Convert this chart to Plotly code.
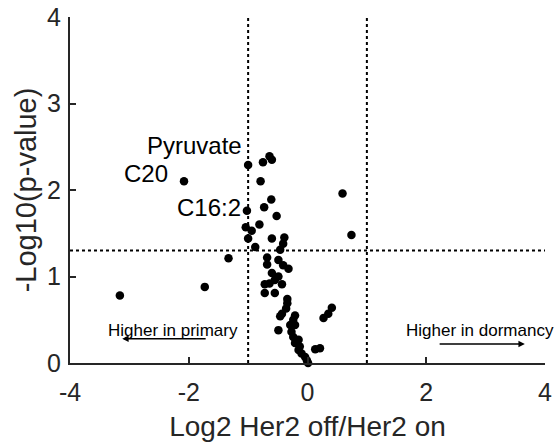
import plotly.graph_objects as go

# Data: log2 fold change (x) and -log10(p-value) (y)
x_vals = [-3.16, -1.73, -1.33, -2.08, -1.00, -1.02, 0.59, 0.74,
          -0.75, -0.64, -0.60, -0.79, -0.61, -0.73, -0.52, -0.81, -1.04, -0.94,
          -1.00, -0.60, -0.39, -0.41, -0.88, -0.46, -0.68, -0.68, -0.49, -0.41,
          -0.32, -0.60, -0.49, -0.64, -0.72, -0.55, -0.43, -0.55, -0.72, -0.34,
          -0.34, -0.36, 0.41, 0.35, 0.27, -0.43, -0.46, -0.21, -0.24, -0.21,
          -0.49, -0.29, -0.27, -0.24, -0.15, -0.21, -0.13, 0.13, 0.21, -0.15,
          -0.10, -0.04, -0.01, 0.01]
y_vals = [0.78, 0.88, 1.21, 2.10, 2.29, 1.76, 1.96, 1.48,
          2.32, 2.39, 2.35, 2.10, 1.89, 1.80, 1.70, 1.60, 1.57, 1.53,
          1.44, 1.44, 1.45, 1.38, 1.34, 1.31, 1.22, 1.14, 1.19, 1.13,
          1.09, 1.04, 1.00, 0.92, 0.91, 0.96, 0.91, 0.81, 0.81, 0.74,
          0.69, 0.63, 0.64, 0.57, 0.52, 0.57, 0.54, 0.55, 0.50, 0.44,
          0.38, 0.44, 0.36, 0.30, 0.27, 0.23, 0.19, 0.16, 0.17, 0.15,
          0.11, 0.07, 0.03, 0.00]

label_text = ["Pyruvate", "C20", "C16:2"]
label_x = [-1.07, -2.31, -1.09]
label_y = [2.51, 2.19, 1.80]

fc_cut = [-1, 1]
p_cut = 1.3
x_range = [-4, 4]
y_range = [0, 4]
tick_x = [-4, -2, 0, 2, 4]
tick_x_text = ["-4", "-2", "0", "2", "4"]
tick_y = [0, 1, 2, 3, 4]
tick_y_text = ["0", "1", "2", "3", "4"]

axis_col = "#262626"
font_fam = "Liberation Sans, Arial, sans-serif"

fig = go.Figure()

# threshold lines
for xc in fc_cut:
    fig.add_trace(go.Scatter(x=[xc, xc], y=y_range, mode="lines",
                             line=dict(color="black", width=2, dash="dot"),
                             hoverinfo="skip", showlegend=False))
fig.add_trace(go.Scatter(x=x_range, y=[p_cut, p_cut], mode="lines",
                         line=dict(color="black", width=2, dash="dot"),
                         hoverinfo="skip", showlegend=False))

fig.add_trace(go.Scatter(x=x_vals, y=y_vals, mode="markers",
                         marker=dict(color="black", size=8.5, line=dict(width=0)),
                         cliponaxis=False, showlegend=False))

for t, lx, ly in zip(label_text, label_x, label_y):
    fig.add_annotation(x=lx, y=ly, text=t, showarrow=False, xanchor="right",
                       yanchor="middle", font=dict(size=24, color="black", family=font_fam))

# direction annotations
fig.add_annotation(x=-2.27, y=0.38, text="Higher in primary", showarrow=False,
                   font=dict(size=17, color="black", family=font_fam))
fig.add_annotation(x=2.91, y=0.38, text="Higher in dormancy", showarrow=False,
                   font=dict(size=17, color="black", family=font_fam))
fig.add_annotation(x=-3.12, y=0.28, ax=-1.69, ay=0.28, xref="x", yref="y",
                   axref="x", ayref="y", text="", showarrow=True,
                   arrowhead=2, arrowsize=0.8, arrowwidth=1.6, arrowcolor="black")
fig.add_annotation(x=3.66, y=0.22, ax=2.20, ay=0.22, xref="x", yref="y",
                   axref="x", ayref="y", text="", showarrow=True,
                   arrowhead=2, arrowsize=0.8, arrowwidth=1.6, arrowcolor="black")

fig.update_xaxes(range=x_range, tickvals=tick_x, ticktext=tick_x_text,
                 showgrid=False, zeroline=False, automargin=False,
                 showline=True, linecolor=axis_col, linewidth=2,
                 ticks="inside", ticklen=6, tickwidth=2, tickcolor=axis_col,
                 ticklabelstandoff=6,
                 tickfont=dict(size=25, color=axis_col, family=font_fam),
                 title=dict(text="Log2 Her2 off/Her2 on", standoff=12,
                            font=dict(size=28, color=axis_col, family=font_fam)))
fig.update_yaxes(range=y_range, tickvals=tick_y, ticktext=tick_y_text,
                 showgrid=False, zeroline=False, automargin=False,
                 showline=True, linecolor=axis_col, linewidth=2,
                 ticks="inside", ticklen=6, tickwidth=2, tickcolor=axis_col,
                 ticklabelstandoff=2,
                 tickfont=dict(size=25, color=axis_col, family=font_fam),
                 title=dict(text="-Log10(p-value)", standoff=2,
                            font=dict(size=29, color=axis_col, family=font_fam)))

fig.update_layout(width=558, height=442, plot_bgcolor="white", paper_bgcolor="white",
                  margin=dict(l=70, r=13, t=17, b=79), showlegend=False)

fig.write_html("out.html")
